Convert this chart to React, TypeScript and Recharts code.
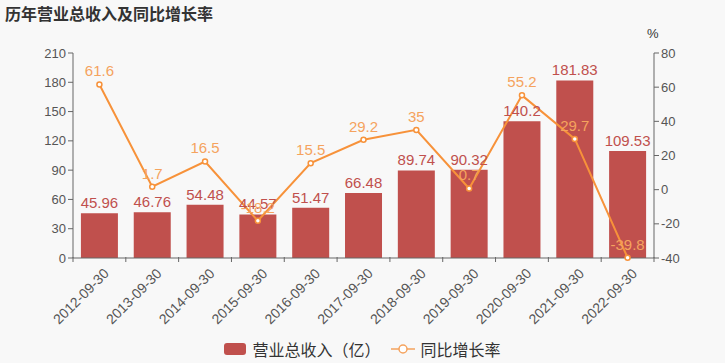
import { ComposedChart, Bar, Line, XAxis, YAxis, LabelList } from 'recharts'

const years = ['2012-09-30', '2013-09-30', '2014-09-30', '2015-09-30', '2016-09-30', '2017-09-30', '2018-09-30', '2019-09-30', '2020-09-30', '2021-09-30', '2022-09-30']
const revenue = [45.96, 46.76, 54.48, 44.57, 51.47, 66.48, 89.74, 90.32, 140.2, 181.83, 109.53]
const growth = [61.6, 1.7, 16.5, -18.2, 15.5, 29.2, 35, 0.7, 55.2, 29.7, -39.8]
const leftTicks = [0, 30, 60, 90, 120, 150, 180, 210]
const rightTicks = [-40, -20, 0, 20, 40, 60, 80]

const BAR = '#c0504d'
const LINE = '#f7923a'
const LINE_LABEL = '#f5a35e'
const AXIS = '#666'
const FONT = '"Liberation Sans", Arial, "Noto Sans CJK SC", sans-serif'
const CJK = '"Noto Sans CJK SC", sans-serif'

const W = 725
const H = 363
const LEFT_W = 73
const RIGHT_W = 71
const band = (W - LEFT_W - RIGHT_W) / years.length

const data = years.map((date, i) => ({ date, revenue: revenue[i], growth: growth[i] }))

// ticks sit between categories, labels at the category centre
function XTick(props: any) {
  const { x, y, payload, index } = props
  const left = x - band / 2
  return (
    <g>
      <line x1={left} y1={y - 8} x2={left} y2={y - 3} stroke={AXIS} />
      {index === years.length - 1 && <line x1={left + band} y1={y - 8} x2={left + band} y2={y - 3} stroke={AXIS} />}
      <text x={x + 3} y={y + 2} transform={`rotate(-45 ${x + 3} ${y + 2})`} textAnchor="end" dominantBaseline="hanging" fontSize={14} fill="#555" fontFamily={FONT}>
        {payload.value}
      </text>
    </g>
  )
}

function LegendBox() {
  return (
    <div style={{ position: 'absolute', left: 0, top: 337, width: W, display: 'flex', justifyContent: 'center', alignItems: 'center', fontSize: 16, color: '#333', fontFamily: CJK }}>
      <span style={{ display: 'inline-block', width: 22, height: 12, borderRadius: 3, background: BAR, marginRight: 6 }} />
      <span style={{ marginRight: 10 }}>营业总收入（亿）</span>
      <svg width={24} height={12} style={{ marginRight: 6 }}>
        <line x1={0} y1={6} x2={24} y2={6} stroke={LINE_LABEL} strokeWidth={1.5} />
        <circle cx={12} cy={6} r={4} fill="#fff" stroke={LINE_LABEL} strokeWidth={1.5} />
      </svg>
      <span>同比增长率</span>
    </div>
  )
}

export default function App() {
  return (
    <div style={{ position: 'fixed', left: 0, top: 0, width: W, height: H, background: '#f8f8f8', fontFamily: FONT }}>
      <div style={{ position: 'absolute', left: 5, top: 1, fontSize: 16, fontWeight: 'bold', color: '#333', fontFamily: CJK }}>历年营业总收入及同比增长率</div>
      <div style={{ position: 'absolute', left: 647, top: 26, fontSize: 13, color: '#333' }}>%</div>
      <LegendBox />
      <ComposedChart width={W} height={H} data={data} margin={{ top: 53, right: 0, bottom: 0, left: 0 }} barCategoryGap="15%">
        <XAxis dataKey="date" height={105} interval={0} tick={<XTick />} tickLine={false} axisLine={{ stroke: AXIS }} tickSize={5} />
        <YAxis yAxisId="left" width={LEFT_W} domain={[0, 210]} ticks={leftTicks} tick={{ fontSize: 13, fill: '#555', fontFamily: FONT }} axisLine={{ stroke: AXIS }} tickLine={{ stroke: AXIS }} tickSize={5} />
        <YAxis yAxisId="right" orientation="right" width={RIGHT_W} domain={[-40, 80]} ticks={rightTicks} tick={{ fontSize: 13, fill: '#555', fontFamily: FONT }} axisLine={{ stroke: AXIS }} tickLine={{ stroke: AXIS }} tickSize={5} />
        <Bar yAxisId="left" dataKey="revenue" fill={BAR} isAnimationActive={false}>
          <LabelList dataKey="revenue" position="top" fill={BAR} fontSize={15} fontFamily={FONT} offset={5} />
        </Bar>
        <Line yAxisId="right" dataKey="growth" stroke={LINE} strokeWidth={2} dot={{ r: 2.5, fill: '#fff', stroke: LINE, strokeWidth: 1.5 }} isAnimationActive={false}>
          <LabelList dataKey="growth" position="top" fill={LINE_LABEL} fontSize={15} fontFamily={FONT} offset={8} />
        </Line>
      </ComposedChart>
    </div>
  )
}
